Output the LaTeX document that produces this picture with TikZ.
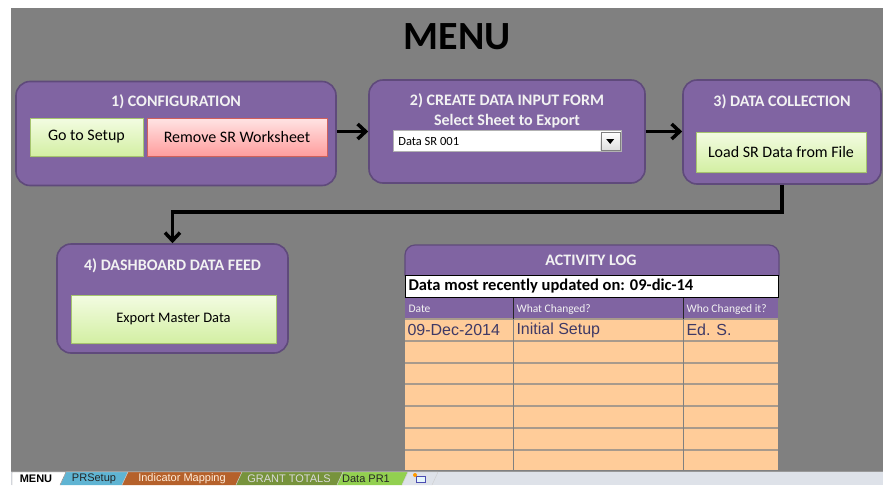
\documentclass[tikz,border=0pt]{standalone}
\usepackage{fontspec}
\setmainfont{Carlito}
\newfontfamily\arialfont{Liberation Sans}
\usepackage{tikz}
\usetikzlibrary{positioning}
\usetikzlibrary{arrows.meta}
\usetikzlibrary{shadows}
\usetikzlibrary{calc}

\definecolor{sheetgray}{HTML}{808080}
\definecolor{stagefill}{HTML}{8064A2}
\definecolor{stageedge}{HTML}{5F4A7B}
\definecolor{titlewhite}{HTML}{F2F2F2}
\definecolor{greentop}{HTML}{F3FCE2}
\definecolor{greenbot}{HTML}{D3EFA3}
\definecolor{greenedge}{HTML}{A6C46E}
\definecolor{redtop}{HTML}{FFE4E4}
\definecolor{redbot}{HTML}{FF9D9D}
\definecolor{rededge}{HTML}{D0605C}
\definecolor{logpeach}{HTML}{FFCC99}
\definecolor{rowline}{HTML}{A89A8C}
\definecolor{logtext}{HTML}{3F3A66}
\definecolor{tabbar}{HTML}{DEE2E9}
\definecolor{tabblue}{HTML}{5FB4D3}
\definecolor{tabbrown}{HTML}{B5612B}
\definecolor{tabolive}{HTML}{77933C}
\definecolor{tablime}{HTML}{92D050}

\begin{document}
\begin{tikzpicture}[
  x=1pt, y=-1pt,
  stage/.style={
    draw=stageedge, line width=1.6pt, fill=stagefill,
    rounded corners=14pt,
  },
  stagetitle/.style={text=titlewhite, font=\bfseries\fontsize{16}{19.5}\selectfont},
  button/.style={
    draw=greenedge, line width=.8pt,
    top color=greentop, bottom color=greenbot,
    font=\fontsize{16}{18}\selectfont,
    drop shadow={shadow xshift=1pt, shadow yshift=-1.5pt, opacity=.3},
  },
  redbutton/.style={button, draw=rededge, top color=redtop, bottom color=redbot},
  flow/.style={line width=3.5pt, -{Straight Barb[length=8pt,width=15pt]}},
  loghead/.style={text=titlewhite, font=\fontsize{11.5}{13}\selectfont, anchor=west},
  logentry/.style={text=logtext, font=\arialfont\fontsize{16}{18}\selectfont, anchor=west},
  sheettab/.style={font=\arialfont\fontsize{11}{12}\selectfont},
]
  \useasboundingbox (0,0) rectangle (883,485);
  \fill[white] (0,0) rectangle (883,485);
  \fill[sheetgray] (11,8) rectangle (883,471);

  \node[font=\bfseries\fontsize{40}{44}\selectfont] (menu) at (457,37) {MENU};

  \node[stage, minimum width=320pt, minimum height=104pt] (cfg) at (176,133.5) {};
  \node[stage, minimum width=276pt, minimum height=103pt] (form) at (507,131.5) {};
  \node[stage, minimum width=198pt, minimum height=104pt] (coll) at (782,132) {};
  \node[stage, minimum width=231pt, minimum height=109pt] (dash) at (172.5,298.5) {};

  \node[stagetitle] (cfgtitle) at (176,102) {1) CONFIGURATION};
  \node[stagetitle, align=center] (formtitle) at (507,111) {2) CREATE DATA INPUT FORM\\Select Sheet to Export};
  \node[stagetitle] (colltitle) at (782,102) {3) DATA COLLECTION};
  \node[stagetitle] (dashtitle) at (172.5,266) {4) DASHBOARD DATA FEED};

  \node[button, minimum width=113pt, minimum height=38pt] (setup) at (86.5,137) {Go to Setup};
  \node[redbutton, minimum width=180pt, minimum height=38pt] (remove) at (237,137) {Remove SR Worksheet};
  \node[button, minimum width=170pt, minimum height=40pt] (load) at (781,152) {Load SR Data from File};
  \node[button, minimum width=205pt, minimum height=48pt, font=\fontsize{14.5}{16}\selectfont] (export) at (173.5,319) {Export Master Data};

  \node[draw=gray!60, fill=white, minimum width=228pt, minimum height=21pt] (pick) at (507,141) {};
  \node[font=\fontsize{12.5}{14}\selectfont, anchor=west] (picktext) at ([xshift=2pt]pick.west) {Data SR 001};
  \node[draw=gray, top color=white, bottom color=gray!25, minimum width=19pt, minimum height=18pt, inner sep=0pt] (pickbtn) at ([xshift=-11pt]pick.east) {};
  \fill ($(pickbtn.center)+(-4,-2)$) -- ++(8,0) -- ++(-4,5) -- cycle;

  \draw[flow] (form.west -| cfg.east) -- (form.west);
  \draw[flow] (form.east) -- (form.east -| coll.west);
  \draw[flow] (coll.south) -- ++(0,27) -| (dash.north);

  % activity log
  \draw[stageedge, fill=stagefill, line width=1.2pt, rounded corners=10pt]
    (405,276) -- (405,245) -- (779,245) -- (779,276);
  \node[stagetitle] (logtitle) at (591,260) {ACTIVITY LOG};
  \draw[black, fill=white] (405,275) rectangle (778,297);
  \node[anchor=west, font=\bfseries\fontsize{16.5}{18}\selectfont] (updated) at (405,286) {Data most recently updated on: 09-dic-14};
  \fill[stagefill] (405,297.5) rectangle (778,319);
  \fill[logpeach] (405,319) rectangle (778,470);
  \foreach \y in {319,341,363,384,406,428,450}
    \draw[rowline, line width=1.8pt] (405,\y) -- (778,\y);
  \foreach \x in {513,683} {
    \draw[black!85] (\x,297.5) -- (\x,319);
    \draw[gray] (\x,319) -- (\x,470);
  }
  \node[loghead] (hdate) at (405,309) {Date};
  \node[loghead] (hwhat) at (513,309) {What Changed?};
  \node[loghead] (hwho) at (683,309) {Who Changed it?};
  \node[logentry] (edate) at (404,330) {09-Dec-2014};
  \node[logentry] (ewhat) at (513,330) {Initial Setup};
  \node[logentry] (ewho) at (683,330) {Ed. S.};

  % sheet tabs
  \fill[tabbar] (11,471) rectangle (883,485);
  \draw[gray!80] (11,471) -- (883,471);
  \foreach \xa/\xb/\col in {60/122/tabblue, 122/236/tabbrown, 236/337/tabolive, 337/402/tablime, 402/432/tabbar}
    \filldraw[fill=\col, draw=white!60!gray] (\xa,485) -- (\xa+6,472) -- (\xb+6,472) -- (\xb,485);
  \filldraw[fill=white, draw=gray] (12,485) -- (12,472) -- (66,472) -- (60,485);
  \node[sheettab, font=\arialfont\bfseries\fontsize{11}{12}\selectfont] (tmenu) at (36,478.5) {MENU};
  \node[sheettab, text=black!85] (tpr) at (94,478.5) {PRSetup};
  \node[sheettab, text=orange!15] (tmap) at (182,478.5) {Indicator Mapping};
  \node[sheettab, text=black!15] (tgrant) at (289,478.5) {GRANT TOTALS};
  \node[sheettab, text=black!85] (tdata) at (366,478.5) {Data PR1};
  \filldraw[fill=cyan!10, draw=blue!40!gray] (416,476) rectangle (425,482);
  \fill[orange!80!yellow] (415,475) circle (2pt);
\end{tikzpicture}
\end{document}
